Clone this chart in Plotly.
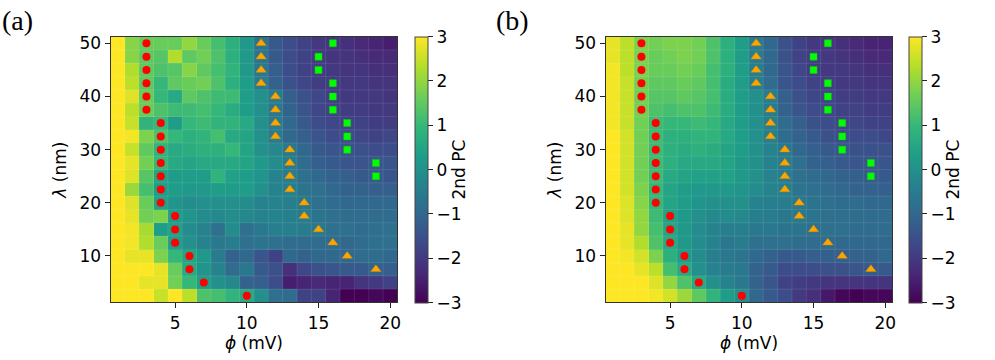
import plotly.graph_objects as go
from plotly.subplots import make_subplots

# grid: phi (mV) columns, lambda (nm) rows
phi = list(range(1, 21))
lam_top_down = [50, 47.5, 45, 42.5, 40, 37.5, 35, 32.5, 30, 27.5,
                25, 22.5, 20, 17.5, 15, 12.5, 10, 7.5, 5, 2.5]

# panel (a): 2nd PC, rows from lambda=50 down to 2.5
pc_a = [
    [3.0, 1.9, 1.6, 1.6, 1.6, 2.0, 1.6, 1.2, 0.8, 0.2, -0.7, -1.3, -1.6, -1.8, -2.0, -2.1, -2.2, -2.3, -2.4, -2.5],
    [3.0, 1.9, 1.5, 1.4, 2.3, 1.5, 1.7, 1.3, 0.8, 0.2, -0.7, -1.3, -1.6, -1.8, -2.0, -2.1, -2.1, -2.2, -2.3, -2.3],
    [3.0, 2.3, 1.5, 1.3, 1.4, 1.9, 1.5, 1.2, 0.9, 0.2, -0.6, -1.2, -1.6, -1.8, -1.9, -2.0, -2.1, -2.1, -2.2, -2.2],
    [3.0, 2.4, 1.5, 1.0, 1.5, 1.6, 1.7, 1.3, 0.8, 0.3, -0.5, -1.1, -1.5, -1.7, -1.9, -1.9, -2.0, -2.0, -2.1, -2.1],
    [3.0, 2.7, 1.6, 1.0, 0.6, 1.5, 1.3, 1.1, 1.1, 0.3, 0.0, -0.5, -1.2, -1.5, -1.7, -1.9, -2.0, -2.0, -2.0, -2.1],
    [3.0, 2.4, 1.6, 1.3, 1.1, 1.1, 1.2, 1.0, 0.7, 0.3, 0.0, -0.6, -1.1, -1.4, -1.7, -1.8, -1.9, -1.9, -2.0, -2.0],
    [3.0, 2.5, 0.9, 1.0, 0.3, 1.0, 1.1, 0.9, 0.9, 0.6, 0.0, -0.5, -1.0, -1.3, -1.6, -1.7, -1.8, -1.8, -1.9, -1.9],
    [3.0, 2.9, 1.8, 1.3, 1.0, 0.8, 0.9, 1.2, 0.6, 0.5, 0.0, -0.5, -1.0, -1.2, -1.4, -1.6, -1.6, -1.7, -1.8, -1.7],
    [3.0, 2.5, 1.5, 0.9, 0.6, 0.7, 0.8, 0.8, 1.0, 0.5, 0.0, -0.2, -0.6, -1.0, -1.3, -1.4, -1.5, -1.5, -1.6, -1.6],
    [3.0, 2.8, 1.7, 1.0, 0.6, 0.5, 0.6, 0.6, 0.6, 0.5, 0.2, -0.1, -0.5, -0.9, -1.2, -1.3, -1.4, -1.4, -1.4, -1.4],
    [3.0, 2.7, 1.4, 0.5, 0.3, 0.3, 0.3, 0.9, 0.4, 0.3, 0.1, -0.3, -0.5, -0.8, -1.0, -1.1, -1.2, -1.3, -1.3, -1.4],
    [3.0, 2.1, 1.2, 0.3, 0.3, 0.2, 0.2, 0.3, 0.3, 0.3, 0.0, -0.3, -0.4, -0.7, -0.8, -1.0, -1.1, -1.1, -1.2, -1.2],
    [3.0, 2.7, 1.6, 0.4, 0.1, -0.1, 0.0, 0.0, 0.0, -0.1, -0.3, -0.3, -0.4, -0.6, -0.8, -0.9, -1.0, -1.0, -1.0, -1.0],
    [3.0, 2.8, 1.7, 1.8, 0.3, 0.1, -0.1, -0.2, -0.1, -0.2, -0.3, -0.3, -0.4, -0.5, -0.7, -0.8, -0.9, -0.9, -0.9, -0.9],
    [3.0, 2.9, 2.2, 0.3, 0.4, -0.1, -0.3, -0.8, -0.1, -0.8, -0.6, -0.4, -0.4, -0.5, -0.6, -0.8, -0.8, -0.9, -0.8, -0.8],
    [3.0, 2.9, 2.3, 1.6, 0.3, 0.0, -0.3, -0.6, -0.5, -0.8, -0.7, -0.8, -0.9, -0.9, -0.9, -0.9, -1.0, -0.9, -0.8, -0.8],
    [3.0, 2.8, 2.8, 1.8, 1.0, 0.5, 0.2, -0.5, -1.1, -1.0, -1.4, -1.8, -1.0, -1.1, -1.0, -1.0, -1.0, -0.9, -0.9, -1.0],
    [3.0, 3.0, 3.0, 2.8, 1.6, 0.6, 0.1, -0.3, -0.9, -0.6, -1.3, -1.5, -2.2, -1.7, -1.5, -1.4, -1.3, -1.3, -1.1, -1.2],
    [3.0, 3.0, 2.8, 2.8, 1.7, 1.0, 0.3, 0.0, -0.2, -1.1, -1.2, -1.6, -2.5, -2.4, -2.3, -2.4, -2.4, -2.1, -2.0, -1.8],
    [3.0, 3.0, 3.0, 2.5, 3.0, 2.4, 1.3, 1.2, 0.9, 0.6, 0.0, -0.8, -0.9, -1.8, -1.8, -2.4, -3.0, -3.0, -2.9, -3.0],
]

# panel (b): smoothed 2nd PC, same ordering
pc_b = [
    [2.8, 2.4, 1.8, 1.7, 1.8, 1.8, 1.7, 1.3, 0.8, 0.3, -0.5, -1.0, -1.5, -1.8, -2.0, -2.1, -2.2, -2.3, -2.4, -2.4],
    [2.8, 2.4, 1.8, 1.6, 1.7, 1.8, 1.7, 1.3, 0.8, 0.3, -0.5, -1.0, -1.5, -1.8, -1.9, -2.0, -2.1, -2.2, -2.3, -2.3],
    [2.9, 2.4, 1.8, 1.6, 1.6, 1.7, 1.6, 1.2, 0.8, 0.3, -0.4, -1.0, -1.4, -1.7, -1.9, -2.0, -2.0, -2.1, -2.2, -2.2],
    [2.9, 2.5, 1.7, 1.5, 1.5, 1.6, 1.5, 1.2, 0.7, 0.3, -0.4, -0.9, -1.4, -1.6, -1.8, -1.9, -2.0, -2.0, -2.1, -2.1],
    [2.9, 2.5, 1.7, 1.4, 1.4, 1.5, 1.4, 1.2, 0.7, 0.3, 0.0, -0.5, -1.2, -1.5, -1.7, -1.8, -1.9, -1.9, -2.0, -2.0],
    [2.9, 2.5, 1.7, 1.3, 1.2, 1.3, 1.3, 1.1, 0.7, 0.3, 0.0, -0.5, -1.1, -1.4, -1.6, -1.7, -1.8, -1.8, -1.9, -1.9],
    [2.9, 2.5, 1.7, 1.1, 1.0, 1.0, 1.1, 1.0, 0.6, 0.3, 0.0, -0.4, -0.9, -1.2, -1.5, -1.6, -1.7, -1.7, -1.8, -1.8],
    [3.0, 2.6, 1.7, 1.1, 0.8, 0.8, 0.9, 0.9, 0.6, 0.3, 0.0, -0.4, -0.9, -1.1, -1.3, -1.5, -1.6, -1.6, -1.6, -1.7],
    [3.0, 2.6, 1.7, 1.1, 0.8, 0.7, 0.8, 0.7, 0.5, 0.3, 0.0, -0.3, -0.6, -1.0, -1.2, -1.3, -1.4, -1.5, -1.5, -1.5],
    [3.0, 2.6, 1.7, 1.1, 0.8, 0.6, 0.6, 0.6, 0.5, 0.2, 0.0, -0.3, -0.5, -0.8, -1.1, -1.2, -1.3, -1.4, -1.4, -1.4],
    [3.0, 2.6, 1.7, 1.1, 0.6, 0.5, 0.4, 0.4, 0.4, 0.2, 0.0, -0.3, -0.5, -0.8, -0.9, -1.0, -1.1, -1.2, -1.3, -1.3],
    [3.0, 2.6, 1.8, 1.0, 0.5, 0.3, 0.2, 0.2, 0.2, 0.1, -0.1, -0.3, -0.4, -0.7, -0.8, -0.9, -1.0, -1.1, -1.1, -1.2],
    [3.0, 2.7, 1.9, 1.0, 0.5, 0.3, 0.1, 0.0, 0.0, 0.0, -0.3, -0.4, -0.5, -0.6, -0.7, -0.8, -0.9, -0.9, -1.0, -1.0],
    [3.0, 2.7, 2.0, 1.1, 0.4, 0.2, 0.0, -0.2, -0.1, -0.2, -0.4, -0.5, -0.6, -0.6, -0.7, -0.8, -0.8, -0.9, -0.9, -0.9],
    [3.0, 2.8, 2.0, 1.2, 0.5, 0.2, -0.1, -0.3, -0.4, -0.4, -0.6, -0.6, -0.7, -0.7, -0.8, -0.8, -0.8, -0.9, -0.9, -0.9],
    [3.0, 2.8, 2.3, 1.3, 0.6, 0.2, -0.1, -0.3, -0.6, -0.5, -0.8, -0.8, -0.8, -0.9, -0.9, -0.9, -1.0, -1.0, -1.0, -1.0],
    [3.0, 2.9, 2.6, 1.8, 0.8, 0.3, -0.1, -0.4, -0.6, -0.7, -1.0, -1.1, -1.3, -1.3, -1.2, -1.2, -1.2, -1.1, -1.1, -1.0],
    [3.0, 3.0, 2.8, 2.4, 1.2, 0.6, 0.0, -0.3, -0.5, -0.6, -1.1, -1.3, -1.6, -1.6, -1.6, -1.5, -1.5, -1.4, -1.3, -1.3],
    [3.0, 3.0, 3.0, 2.7, 2.0, 1.3, 0.6, 0.0, -0.3, -0.6, -1.1, -1.4, -1.8, -1.9, -2.0, -2.1, -2.1, -2.1, -2.1, -2.1],
    [3.0, 3.0, 3.0, 2.9, 2.6, 2.1, 1.5, 0.9, 0.3, -0.1, -1.0, -1.3, -1.6, -2.0, -2.2, -2.6, -2.9, -3.0, -2.9, -2.9],
]

# boundary markers (same in both panels)
circ_x = [3, 3, 3, 3, 3, 3, 4, 4, 4, 4, 4, 4, 4, 5, 5, 5, 6, 6, 7, 10]
circ_y = [50, 47.5, 45, 42.5, 40, 37.5, 35, 32.5, 30, 27.5, 25, 22.5, 20, 17.5, 15, 12.5, 10, 7.5, 5, 2.5]
tri_x = [11, 11, 11, 11, 12, 12, 12, 12, 13, 13, 13, 13, 14, 14, 15, 16, 17, 19]
tri_y = [50, 47.5, 45, 42.5, 40, 37.5, 35, 32.5, 30, 27.5, 25, 22.5, 20, 17.5, 15, 12.5, 10, 7.5]
sq_x = [16, 15, 15, 16, 16, 16, 17, 17, 17, 19, 19]
sq_y = [50, 47.5, 45, 42.5, 40, 37.5, 35, 32.5, 30, 27.5, 25]

W, H = 995, 360
FONT = "DejaVu Sans"
lam = lam_top_down[::-1]

fig = make_subplots(rows=1, cols=2)

y_dom = [(H - 302) / H, (H - 34) / H]
x_doms = [[111 / W, 399 / W], [608 / W, 896 / W]]
cbar_x = [417 / W, 913 / W]

for i, z in enumerate([pc_a, pc_b]):
    col = i + 1
    fig.add_trace(go.Heatmap(
        x=phi, y=lam, z=z[::-1], colorscale="Viridis", zmin=-3, zmax=3,
        colorbar=dict(
            x=cbar_x[i], xanchor="left", xpad=0, ypad=0,
            y=sum(y_dom) / 2, yanchor="middle", len=y_dom[1] - y_dom[0], lenmode="fraction",
            thickness=13, outlinewidth=1, outlinecolor="#444",
            tickvals=[-3, -2, -1, 0, 1, 2, 3], ticks="outside", ticklen=5, tickcolor="#222",
            tickfont=dict(family=FONT, size=17, color="black"),
            title=dict(text="2nd PC", side="right", font=dict(family=FONT, size=17, color="black")),
        ),
    ), row=1, col=col)
    fig.add_trace(go.Scatter(x=circ_x, y=circ_y, mode="markers", showlegend=False,
                             marker=dict(symbol="circle", size=8, color="red")), row=1, col=col)
    fig.add_trace(go.Scatter(x=tri_x, y=tri_y, mode="markers", showlegend=False,
                             marker=dict(symbol="triangle-up", size=9, color="orange",
                                         line=dict(width=0.5, color="#d98c00"))), row=1, col=col)
    fig.add_trace(go.Scatter(x=sq_x, y=sq_y, mode="markers", showlegend=False,
                             marker=dict(symbol="square", size=7, color="#00ff00",
                                         line=dict(width=0.5, color="#22bb22"))), row=1, col=col)

    # faint seams between cells
    xa = "x" if i == 0 else "x2"
    ya = "y" if i == 0 else "y2"
    for e in [p + 0.5 for p in phi[:-1]]:
        fig.add_shape(type="line", xref=xa, yref=ya, x0=e, x1=e, y0=1.25, y1=51.25,
                      line=dict(color="rgba(255,255,255,0.10)", width=1))
    for e in [l + 1.25 for l in lam[:-1]]:
        fig.add_shape(type="line", xref=xa, yref=ya, x0=0.5, x1=20.5, y0=e, y1=e,
                      line=dict(color="rgba(255,255,255,0.10)", width=1))

    axis_common = dict(showline=True, mirror=True, linecolor="#333", linewidth=1,
                       ticks="outside", ticklen=5, tickcolor="#222", showgrid=False, zeroline=False,
                       tickfont=dict(family=FONT, size=17, color="black"))
    fig.update_xaxes(domain=x_doms[i], range=[0.5, 20.5], tickvals=[5, 10, 15, 20],
                     title=dict(text="<i>ϕ</i> (mV)", standoff=0, font=dict(family=FONT, size=17, color="black")),
                     **axis_common, row=1, col=col)
    fig.update_yaxes(domain=y_dom, range=[1.25, 51.25], tickvals=[10, 20, 30, 40, 50],
                     title=dict(text="<i>λ</i> (nm)", standoff=8, font=dict(family=FONT, size=17, color="black")),
                     **axis_common, row=1, col=col)

for txt, xpos in [("(a)", 0.0), ("(b)", 496 / W)]:
    fig.add_annotation(text=txt, xref="paper", yref="paper", x=xpos, y=1.0,
                       xanchor="left", yanchor="top", showarrow=False,
                       font=dict(family="Liberation Serif", size=28, color="black"))

fig.update_layout(width=W, height=H, margin=dict(l=0, r=0, t=0, b=0),
                  paper_bgcolor="white", plot_bgcolor="white", showlegend=False)

# drop the default body margin so the figure sits at the window's top-left corner
fig.write_html("out.html", config={"displayModeBar": False},
               post_script="document.body.style.margin='0';")
